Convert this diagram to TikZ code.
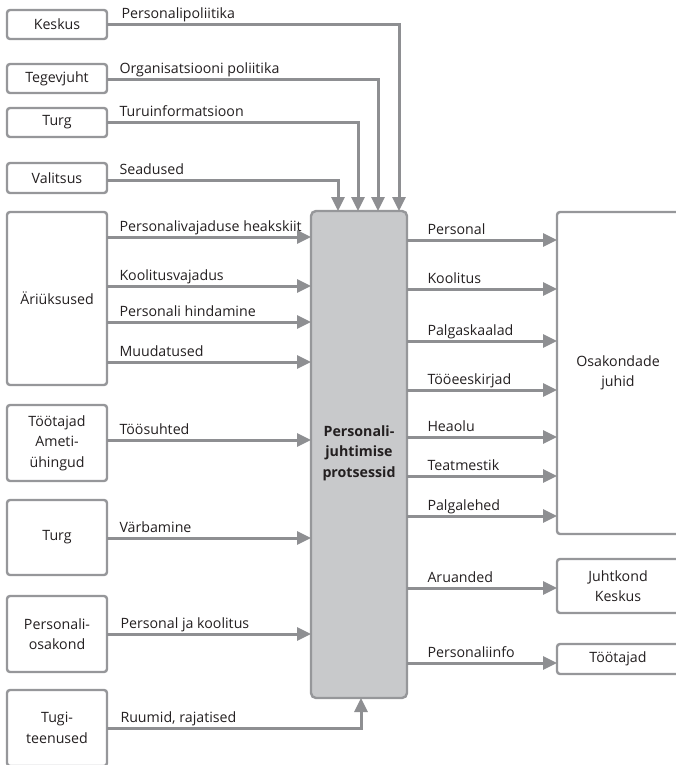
\documentclass[tikz,border=0pt]{standalone}
\usepackage{fontspec}
\setmainfont{Open Sans}
\usetikzlibrary{arrows.meta}
\definecolor{linegray}{HTML}{8E8F92}
\definecolor{boxgray}{HTML}{96979A}
\definecolor{procfill}{HTML}{C8C9CB}
\definecolor{ink}{HTML}{231F20}
\begin{document}
\begin{tikzpicture}[x=1pt,y=-1pt,
  every node/.style={text=ink,font=\fontsize{14.2}{20.5}\selectfont},
  box/.style={draw=boxgray,line width=2.4pt,rounded corners=3pt,fill=white,
    align=center,inner sep=0pt,outer sep=0pt,anchor=north west},
  proc/.style={box,fill=procfill,rounded corners=5pt},
  arr/.style={draw=linegray,line width=3pt,
    -{Triangle[length=14pt,width=13pt]}},
  lbl/.style={anchor=base west,yshift=6pt,inner sep=0pt}]
\useasboundingbox (0,0) rectangle (676,765);
\clip (0,0) rectangle (676,765);

% sources on the left
\node[box,minimum width=100pt,minimum height=29pt] (keskus) at (7,10) {Keskus};
\node[box,minimum width=100pt,minimum height=29pt] (tegev) at (7,64) {Tegevjuht};
\node[box,minimum width=100pt,minimum height=29pt] (turgA) at (7,108) {Turg};
\node[box,minimum width=100pt,minimum height=30pt] (valit) at (7,163) {Valitsus};
\node[box,minimum width=100pt,minimum height=173pt] (ari) at (7,212) {Äriüksused};
\node[box,minimum width=100pt,minimum height=76pt] (tootaj) at (7,405) {Töötajad\\Ameti-\\ühingud};
\node[box,minimum width=100pt,minimum height=75pt] (turgB) at (7,500) {Turg};
\node[box,minimum width=100pt,minimum height=76pt] (posak) at (7,596) {Personali-\\osakond};
\node[box,minimum width=100pt,minimum height=76pt] (tugi) at (7,690) {Tugi-\\teenused};

% central process
\node[proc,minimum width=96pt,minimum height=487pt] (proc) at (311,211) {};
\node[font=\fontsize{14.2}{20.5}\selectfont\bfseries,align=center] (proct) at (359,453)
  {Personali-\\juhtimise\\protsessid};

% receivers on the right
\node[box,minimum width=125pt,minimum height=322pt] (osak) at (557,212) {};
\node[align=center] (osakt) at (618,373) {Osakondade\\juhid};
\node[box,minimum width=125pt,minimum height=54pt] (juht) at (557,559) {};
\node[align=center] (juhtt) at (618,586) {Juhtkond\\Keskus};
\node[box,minimum width=125pt,minimum height=30pt] (toot) at (557,644) {};
\node (toott) at (618,659) {Töötajad};

% inputs from above
\draw[arr] (keskus.east |- 0,25) node[lbl,xshift=13pt]{Personalipoliitika} -| (proc.north -| 399,0);
\draw[arr] (tegev.east |- 0,80) node[lbl,xshift=11pt]{Organisatsiooni poliitika} -| (proc.north -| 378,0);
\draw[arr] (turgA.east |- 0,123) node[lbl,xshift=11pt]{Turuinformatsioon} -| (proc.north -| 358,0);
\draw[arr] (valit.east |- 0,180) node[lbl,xshift=11pt]{Seadused} -| (proc.north -| 338,0);

% inputs from the left
\draw[arr] (ari.east |- 0,237) node[lbl,xshift=11pt]{Personalivajaduse heakskiit} -- (proc.west |- 0,237);
\draw[arr] (ari.east |- 0,286) node[lbl,xshift=11pt]{Koolitusvajadus} -- (proc.west |- 0,286);
\draw[arr] (ari.east |- 0,322) node[lbl,xshift=11pt]{Personali hindamine} -- (proc.west |- 0,322);
\draw[arr] (ari.east |- 0,362) node[lbl,xshift=11pt]{Muudatused} -- (proc.west |- 0,362);
\draw[arr] (tootaj.east |- 0,440) node[lbl,xshift=11pt]{Töösuhted} -- (proc.west |- 0,440);
\draw[arr] (turgB.east |- 0,538) node[lbl,xshift=11pt]{Värbamine} -- (proc.west |- 0,538);
\draw[arr] (posak.east |- 0,634) node[lbl,xshift=12pt]{Personal ja koolitus} -- (proc.west |- 0,634);

% input from below
\draw[arr] (tugi.east |- 0,728) node[lbl,xshift=12pt]{Ruumid, rajatised} -| (proc.south -| 361,0);

% outputs
\draw[arr] (proc.east |- 0,240) node[lbl,xshift=19pt]{Personal} -- (osak.west |- 0,240);
\draw[arr] (proc.east |- 0,289) node[lbl,xshift=19pt]{Koolitus} -- (osak.west |- 0,289);
\draw[arr] (proc.east |- 0,341) node[lbl,xshift=19pt]{Palgaskaalad} -- (osak.west |- 0,341);
\draw[arr] (proc.east |- 0,390) node[lbl,xshift=19pt]{Tööeeskirjad} -- (osak.west |- 0,390);
\draw[arr] (proc.east |- 0,437) node[lbl,xshift=19pt]{Heaolu} -- (osak.west |- 0,437);
\draw[arr] (proc.east |- 0,476) node[lbl,xshift=19pt]{Teatmestik} -- (osak.west |- 0,476);
\draw[arr] (proc.east |- 0,516) node[lbl,xshift=19pt]{Palgalehed} -- (osak.west |- 0,516);
\draw[arr] (proc.east |- 0,588) node[lbl,xshift=19pt]{Aruanded} -- (juht.west |- 0,588);
\draw[arr] (proc.east |- 0,663) node[lbl,xshift=19pt]{Personaliinfo} -- (toot.west |- 0,663);
\end{tikzpicture}
\end{document}
